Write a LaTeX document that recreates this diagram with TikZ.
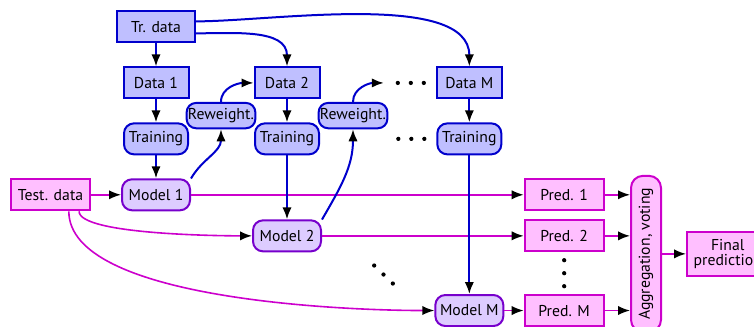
\documentclass[tikz,border=0pt]{standalone}
\usepackage{fontspec}
\setmainfont{PT Sans}
\usepackage{tikz}
\usetikzlibrary{positioning, arrows.meta, calc}

\definecolor{dblue}{RGB}{0,0,204}
\definecolor{lblue}{RGB}{191,191,255}
\definecolor{mpurple}{RGB}{119,0,204}
\definecolor{lpurple}{RGB}{221,204,255}
\definecolor{mag}{RGB}{204,0,204}
\definecolor{lpink}{RGB}{255,191,255}

\begin{document}
\begin{tikzpicture}[
  font=\fontsize{11.8}{13}\selectfont,
  node distance=17.2pt and 16.5pt,
  dat/.style   ={rectangle, draw=dblue, line width=1.5pt, fill=lblue,
                 minimum width=48.75pt, minimum height=23.25pt, align=center},
  trn/.style   ={dat, rounded corners=7.5pt, minimum width=48pt},
  rew/.style   ={dat, rounded corners=7pt, minimum width=47pt,
                 minimum height=19pt, inner sep=1pt},
  mdl/.style   ={rectangle, rounded corners=7.5pt, draw=mpurple, line width=1.5pt,
                 fill=lpurple, minimum width=51pt, minimum height=23.25pt},
  pred/.style  ={rectangle, draw=mag, line width=1.5pt, fill=lpink,
                 minimum width=59.25pt, minimum height=23.25pt, align=center},
  agg/.style   ={pred, rounded corners=9pt, rotate=90,
                 minimum width=117pt, minimum height=22.5pt, inner sep=1pt},
  bflow/.style ={-{Latex[black, length=9pt, width=7pt]}, draw=dblue, line width=1.5pt},
  mflow/.style ={-{Latex[black, length=9pt, width=7pt]}, draw=mag, line width=1.2pt},
  dot/.style   ={fill=black}
]
\useasboundingbox (0,0) rectangle (565.5pt,-245.25pt);

% ---------- Training column 1 ----------
\node[dat, minimum width=58.5pt] (tr) at (117pt,-20.25pt) {Tr. data};
\node[dat, below=of tr] (d1) {Data 1};
\node[trn, below=of d1] (t1) {Training};
\node[mdl, below=of t1] (m1) {Model 1};
\node[pred, left=22.5pt of m1] (test) {Test. data};

% ---------- Columns 2 and M ----------
\node[dat, right=48pt of d1]    (d2) {Data 2};
\node[trn, below=of d2]         (t2) {Training};
\node[mdl, below=48pt of t2]    (m2) {Model 2};
\node[dat, right=86.5pt of d2]  (dM) {Data M};
\node[trn, below=of dM]         (tM) {Training};
\node[mdl, below=104pt of tM]   (mM) {Model M};

\node[rew] (rw1) at ($(d1)+(48.75pt,-24.5pt)$) {Reweight.};
\node[rew] (rw2) at ($(d2)+(49.5pt,-24.5pt)$)  {Reweight.};
\coordinate (more) at ($(dM.west)+(-39pt,0)$);

% ---------- Predictions ----------
\node[pred, right=14.5pt of mM] (pM) {Pred. M};
\node[pred] (p1) at (pM |- m1) {Pred. 1};
\node[pred] (p2) at (pM |- m2) {Pred. 2};
\node[agg]  (agg) at ($(p2.east)+(31pt,-13.5pt)$) {Aggregation, voting};
\node[pred, anchor=west, inner sep=5pt, minimum height=33pt]
     (fin) at ($(agg.south)+(18pt,0)$) {Final\\[-2pt]prediction};

% ---------- Dots ----------
\foreach \row in {dM, tM}
  \foreach \dx in {9, 18.75, 28.5}
    \fill[dot] ($(\row.west)+(-\dx pt,0)$) circle (1.6pt);
\foreach \k in {-1, 0, 1} {
  \fill[dot] ($($(p2)!.5!(pM)$)+(0,\k*9.75pt)$) circle (1.6pt);
  \fill[dot] ($($(m2)!.5!(mM)$)+(4pt,-1pt)+(\k*7pt,\k*-6.75pt)$) circle (1.6pt);
}

% ---------- Test arrows ----------
\draw[mflow] (test)      -- (m1);
\draw[mflow] (test.-30)  to[out=-90, in=180, looseness=0.35] (m2.west);
\draw[mflow] (test.-42)  to[out=-90, in=180, looseness=0.6] (mM.west);
\draw[mflow] (m1)        -- (p1);
\draw[mflow] (m2)        -- (p2);
\draw[mflow] (mM)        -- (pM);
\draw[mflow] (p1.east)   -- (p1.east -| agg.north);
\draw[mflow] (p2.east)   -- (p2.east -| agg.north);
\draw[mflow] (pM.east)   -- (pM.east -| agg.north);
\draw[mflow] (agg.south) -- (fin.west);

% ---------- Training arrows ----------
\draw[bflow] (tr)   -- (d1);
\draw[bflow] (d1)   -- (t1);
\draw[bflow] (t1)   -- (m1);
\draw[bflow] (tr.-9) to[out=0, in=90] (d2.north);
\draw[bflow] (tr.8)  to[out=0, in=90, looseness=0.7] (dM.north);
\draw[bflow] (m1.25)      to[out=60, in=-90] (rw1.south);
\draw[bflow] (rw1.north)  to[out=90, in=180] (d2.west);
\draw[bflow] (d2)   -- (t2);
\draw[bflow] (t2)   -- (m2);
\draw[bflow] (m2.25)      to[out=60, in=-90] (rw2.south);
\draw[bflow] (rw2.north)  to[out=90, in=180] (more);
\draw[bflow] (dM)   -- (tM);
\draw[bflow] (tM)   -- (mM);

\end{tikzpicture}
\end{document}
